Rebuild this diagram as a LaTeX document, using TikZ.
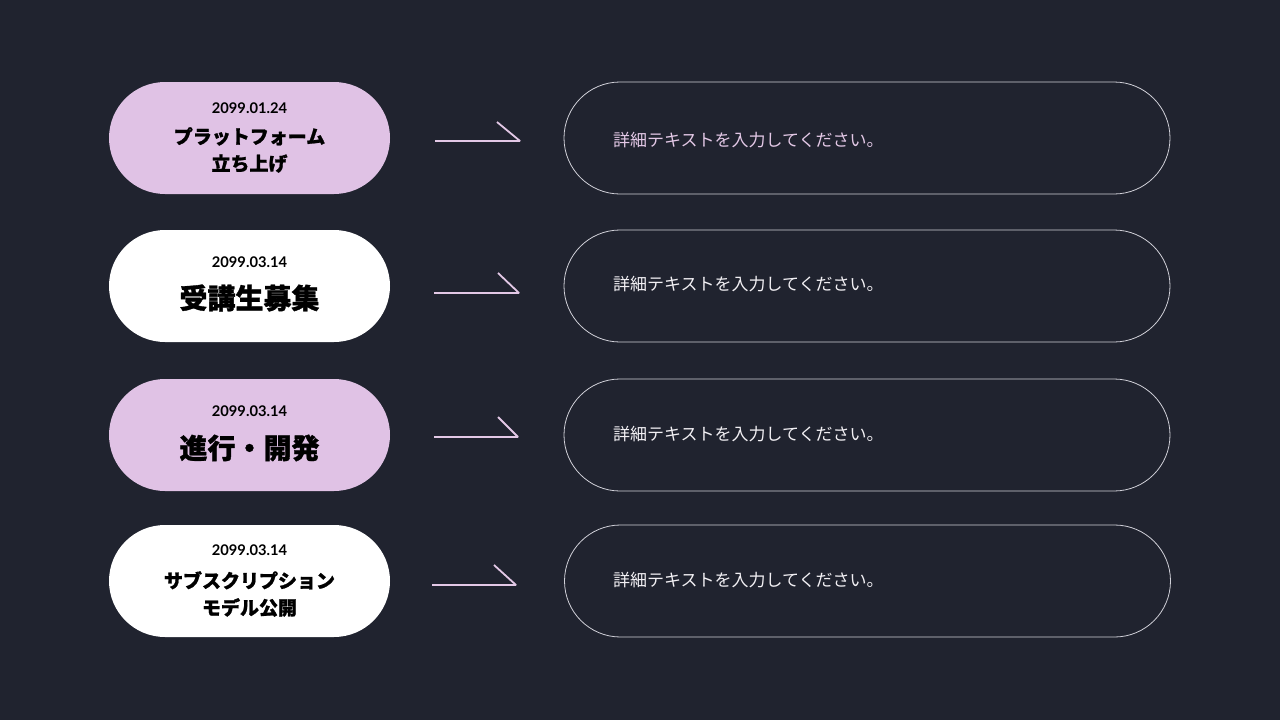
\documentclass[tikz,border=0pt]{standalone}
\usepackage{fontspec}
\setmainfont{Lato}
\newfontfamily\cjk{Noto Sans CJK JP}
\newfontfamily\cjkheavy{Noto Sans CJK JP}[BoldFeatures={FakeBold=1.2}]
\definecolor{bg}{HTML}{20232F}
\definecolor{pinkfill}{HTML}{E0C2E5}
\definecolor{pinkline}{HTML}{E3C8E6}
\definecolor{desccol}{HTML}{F2F0F4}
\definecolor{outline}{HTML}{D0D0D8}
\tikzset{
  pill/.style={rectangle, rounded corners=56pt, minimum height=112pt, inner sep=0pt},
  leftpill/.style={pill, minimum width=281pt},
  rightpill/.style={pill, minimum width=606pt, draw=outline, line width=0.8pt},
  datetext/.style={font=\fontsize{14.7}{16}\selectfont\bfseries, text=black, inner sep=0pt},
  titlesmall/.style={font=\cjkheavy\bfseries\fontsize{19}{27}\selectfont, text=black, align=center, inner sep=0pt},
  titlebig/.style={font=\cjkheavy\bfseries\fontsize{28}{30}\selectfont, text=black, inner sep=0pt},
  desc/.style={font=\cjk\fontsize{17}{19}\selectfont, anchor=west, inner sep=0pt},
  arrowline/.style={draw=pinkline, line width=1.8pt, line join=bevel},
}
\begin{document}
\begin{tikzpicture}[x=1pt,y=-1pt]
\fill[bg] (0,0) rectangle (1280,720);
\useasboundingbox (0,0) rectangle (1280,720);

% Row 1
\node[leftpill, fill=pinkfill] (l1) at (249.5,138) {};
\node[datetext] (d1) at (249.5,108) {2099.01.24};
\node[titlesmall] (t1) at (249.5,150) {プラットフォーム\\立ち上げ};
\node[rightpill] (r1) at (867,138) {};
\node[desc, text=pinkline] (x1) at (613,140) {詳細テキストを入力してください。};
\coordinate (a1s) at (435,141);
\coordinate (a1e) at (520,141);
\draw[arrowline] (a1s) -- (a1e) -- ++(-23,-19);

% Row 2
\node[leftpill, fill=white] (l2) at (249.5,286) {};
\node[datetext] (d2) at (249.5,262) {2099.03.14};
\node[titlebig] (t2) at (249.5,298) {受講生募集};
\node[rightpill] (r2) at (867,286) {};
\node[desc, text=desccol] (x2) at (613,284) {詳細テキストを入力してください。};
\coordinate (a2s) at (434,293);
\coordinate (a2e) at (519,293);
\draw[arrowline] (a2s) -- (a2e) -- ++(-21,-20);

% Row 3
\node[leftpill, fill=pinkfill] (l3) at (249.5,435) {};
\node[datetext] (d3) at (249.5,411) {2099.03.14};
\node[titlebig] (t3) at (249.5,448) {進行・開発};
\node[rightpill] (r3) at (867,435) {};
\node[desc, text=desccol] (x3) at (613,434) {詳細テキストを入力してください。};
\coordinate (a3s) at (434,437);
\coordinate (a3e) at (518,437);
\draw[arrowline] (a3s) -- (a3e) -- ++(-20,-20);

% Row 4
\node[leftpill, fill=white] (l4) at (249.5,581) {};
\node[datetext] (d4) at (249.5,550) {2099.03.14};
\node[titlesmall] (t4) at (249.5,594) {サブスクリプション\\モデル公開};
\node[rightpill] (r4) at (867.5,581) {};
\node[desc, text=desccol] (x4) at (613,580) {詳細テキストを入力してください。};
\coordinate (a4s) at (432,585);
\coordinate (a4e) at (516,585);
\draw[arrowline] (a4s) -- (a4e) -- ++(-22,-20);
\end{tikzpicture}
\end{document}
